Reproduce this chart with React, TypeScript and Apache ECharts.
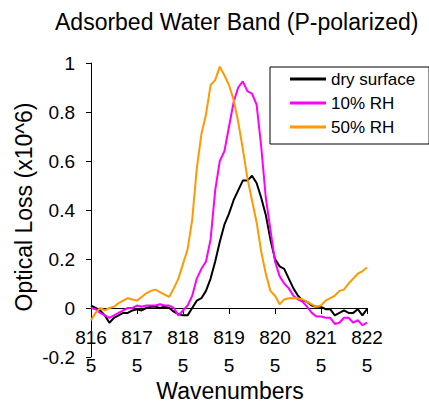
import React, { useEffect, useRef } from "react";
import * as echarts from "echarts";

const FONT = "Arial, 'Liberation Sans', sans-serif";

const titleText = "Adsorbed Water Band (P-polarized)";
const xAxisTitle = "Wavenumbers";
const yAxisTitle = "Optical Loss (x10^6)";
const seriesNames = ["dry surface", "10% RH", "50% RH"];
const seriesColors = ["#000000", "#FF00FF", "#FF9900"];

const wavenumbers = [
  8165, 8166, 8167, 8168, 8169, 8170, 8171, 8172, 8173, 8174,
  8175, 8176, 8177, 8178, 8179, 8180, 8181, 8182, 8183, 8184,
  8185, 8186, 8187, 8188, 8189, 8190, 8191, 8192, 8193, 8194,
  8195, 8196, 8197, 8198, 8199, 8200, 8201, 8202, 8203, 8204,
  8205, 8206, 8207, 8208, 8209, 8210, 8211, 8212, 8213, 8214,
  8215, 8216, 8217, 8218, 8219, 8220, 8221, 8222, 8223, 8224,
  8225,
];

const drySurface = [
  0.01, 0.0, -0.01, -0.03, -0.06, -0.04, -0.03, -0.02, -0.02, -0.01,
  -0.005, -0.01, 0.0, 0.005, 0.005, 0.0, 0.005, 0.0, -0.015, -0.025,
  -0.03, -0.03, 0.0, 0.03, 0.04, 0.07, 0.12, 0.19, 0.27, 0.34,
  0.385, 0.44, 0.48, 0.52, 0.52, 0.54, 0.51, 0.45, 0.38, 0.28,
  0.2, 0.17, 0.16, 0.12, 0.08, 0.05, 0.03, 0.025, 0.01, 0.005,
  0.005, -0.005, -0.005, -0.03, -0.02, -0.01, -0.02, -0.02, -0.005, -0.03,
  -0.005,
];

const rh10 = [
  0.0, -0.005, -0.02, -0.03, -0.04, -0.03, -0.02, -0.01, 0.0, 0.0,
  0.01, 0.005, 0.01, 0.01, 0.01, 0.015, 0.01, 0.01, 0.0, -0.03,
  -0.01, 0.01, 0.05, 0.12, 0.16, 0.19, 0.28, 0.48, 0.6, 0.64,
  0.74, 0.84, 0.9, 0.925, 0.885, 0.875, 0.83, 0.66, 0.45, 0.32,
  0.19, 0.13, 0.1, 0.08, 0.05, 0.035, 0.025, 0.005, -0.02, -0.035,
  -0.035, -0.04, -0.04, -0.065, -0.06, -0.04, -0.04, -0.06, -0.05, -0.07,
  -0.06,
];

const rh50 = [
  -0.05, -0.02, 0.0, -0.01, 0.0, 0.005, 0.02, 0.03, 0.04, 0.035,
  0.03, 0.045, 0.06, 0.07, 0.075, 0.065, 0.055, 0.045, 0.08, 0.12,
  0.18, 0.24, 0.36, 0.57, 0.71, 0.79, 0.91, 0.93, 0.985, 0.95,
  0.91, 0.85, 0.76, 0.65, 0.53, 0.44, 0.35, 0.23, 0.14, 0.07,
  0.05, 0.015, 0.035, 0.04, 0.04, 0.04, 0.035, 0.025, 0.015, 0.005,
  0.01, 0.03, 0.04, 0.05, 0.07, 0.075, 0.1, 0.12, 0.14, 0.15,
  0.165,
];

const seriesValues = [drySurface, rh10, rh50];

export default function App() {
  const ref = useRef<HTMLDivElement>(null);

  useEffect(() => {
    document.body.style.margin = "0";
    if (!ref.current) return;
    const chart = echarts.init(ref.current, null, { renderer: "svg" });
    const option: any = {
      animation: false,
      backgroundColor: "#ffffff",
      title: {
        text: titleText,
        left: 55,
        top: 10,
        padding: 0,
        textStyle: { fontSize: 23, fontWeight: "normal", color: "#000", fontFamily: FONT },
      },
      legend: {
        orient: "vertical",
        left: 270,
        top: 67,
        padding: [3.5, 14, 8.5, 20],
        itemWidth: 36,
        itemHeight: 3,
        itemGap: 7,
        icon: "rect",
        borderColor: "#000",
        borderWidth: 1,
        backgroundColor: "#fff",
        data: seriesNames,
        textStyle: { fontSize: 17, lineHeight: 17, color: "#000", fontFamily: FONT },
      },
      grid: { left: 91, right: 62, top: 63, bottom: 47, outerBoundsMode: "none", containLabel: false },
      xAxis: {
        type: "value",
        position: "bottom",
        offset: -49,
        min: 8165,
        max: 8225,
        interval: 10,
        axisLine: { onZero: false, lineStyle: { color: "#000", width: 1 } },
        axisTick: { show: true, length: 6, lineStyle: { color: "#000" } },
        splitLine: { show: false },
        axisLabel: {
          margin: 15,
          fontSize: 19,
          lineHeight: 28,
          color: "#000",
          fontFamily: FONT,
          formatter: (v: number) => {
            const s = String(v);
            return s.slice(0, 3) + "\n" + s.slice(3);
          },
        },
      },
      yAxis: {
        type: "value",
        min: -0.2,
        max: 1,
        interval: 0.2,
        axisLine: { show: true, onZero: false, lineStyle: { color: "#000", width: 1 } },
        axisTick: { show: true, length: 5, lineStyle: { color: "#000" } },
        splitLine: { show: false },
        axisLabel: { margin: 16, fontSize: 19, color: "#000", fontFamily: FONT },
      },
      graphic: [
        {
          type: "text",
          x: 230,
          y: 391,
          style: {
            text: xAxisTitle,
            fontSize: 23,
            fontFamily: FONT,
            fill: "#000",
            align: "center",
            verticalAlign: "middle",
          },
        },
        {
          type: "text",
          x: 24,
          y: 207,
          rotation: Math.PI / 2,
          style: {
            text: yAxisTitle,
            fontSize: 23,
            fontFamily: FONT,
            fill: "#000",
            align: "center",
            verticalAlign: "middle",
          },
        },
      ],
      series: seriesNames.map((name, i) => ({
        name,
        type: "line",
        symbol: "none",
        showSymbol: false,
        color: seriesColors[i],
        lineStyle: { width: 2, color: seriesColors[i] },
        data: wavenumbers.map((w, j) => [w, seriesValues[i][j]]),
      })),
    };
    chart.setOption(option);
    return () => chart.dispose();
  }, []);

  return <div ref={ref} style={{ width: 429, height: 404 }} />;
}
